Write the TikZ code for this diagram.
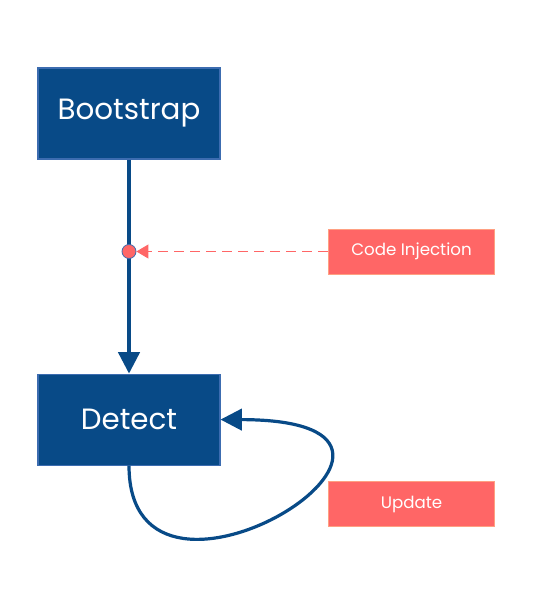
\documentclass[tikz,border=0pt]{standalone}
\usepackage{fontspec}
\setmainfont{Poppins}
\usetikzlibrary{arrows.meta, positioning}
\definecolor{stagecolor}{RGB}{8, 74, 135}
\definecolor{stageedge}{RGB}{60, 108, 176}
\definecolor{hookcolor}{RGB}{255, 102, 102}
\definecolor{hookedge}{RGB}{255, 160, 130}
\tikzset{
  stage/.style={
    rectangle, minimum width=136.5pt, minimum height=68.25pt,
    text centered, font=\fontsize{22}{26}\selectfont,
    fill=stagecolor, draw=stageedge, line width=0.8pt,
    text=white
  },
  hook/.style={
    rectangle, minimum width=125pt, minimum height=33.75pt,
    text centered, font=\fontsize{12.5}{15}\selectfont,
    fill=hookcolor, draw=hookedge, line width=0.6pt,
    text=white
  },
  junction/.style={
    circle, minimum size=10.5pt, inner sep=0pt,
    fill=hookcolor, draw=stageedge, line width=0.6pt
  },
  flow/.style={
    -{Triangle[length=16pt, width=16pt]}, line width=2.4pt, color=stagecolor
  },
  inject/.style={
    -{Triangle[length=9pt, width=10.5pt]}, line width=0.75pt, color=hookcolor,
    dash pattern=on 7.5pt off 4.5pt
  }
}

\begin{document}
\begin{tikzpicture}[x=0.75pt, y=0.75pt]

  \useasboundingbox (0,0) rectangle (539,-599);

  % ── Stages ─────────────────────────────────────────────────
  \node[stage] (bootstrap) at (129,-113.5) {Bootstrap};
  \node[stage, below=160.5pt of bootstrap] (detect) {Detect};

  % ── Hooks ──────────────────────────────────────────────────
  \node[hook] (injection) at (411.5,-251.5) {Code Injection};
  \node[hook, below=155.25pt of injection] (update) {Update};

  % ── Main flow ──────────────────────────────────────────────
  \draw[flow] (bootstrap) -- (detect);

  % ── Injection point ────────────────────────────────────────
  \node[junction] (junc) at (bootstrap.south |- injection.west) {};
  \draw[inject] (injection.west) -- (junc.east);

  % ── Update loop ────────────────────────────────────────────
  \draw[flow] (detect.south) .. controls (129,-655) and (500,-420) .. (detect.east);

\end{tikzpicture}
\end{document}
